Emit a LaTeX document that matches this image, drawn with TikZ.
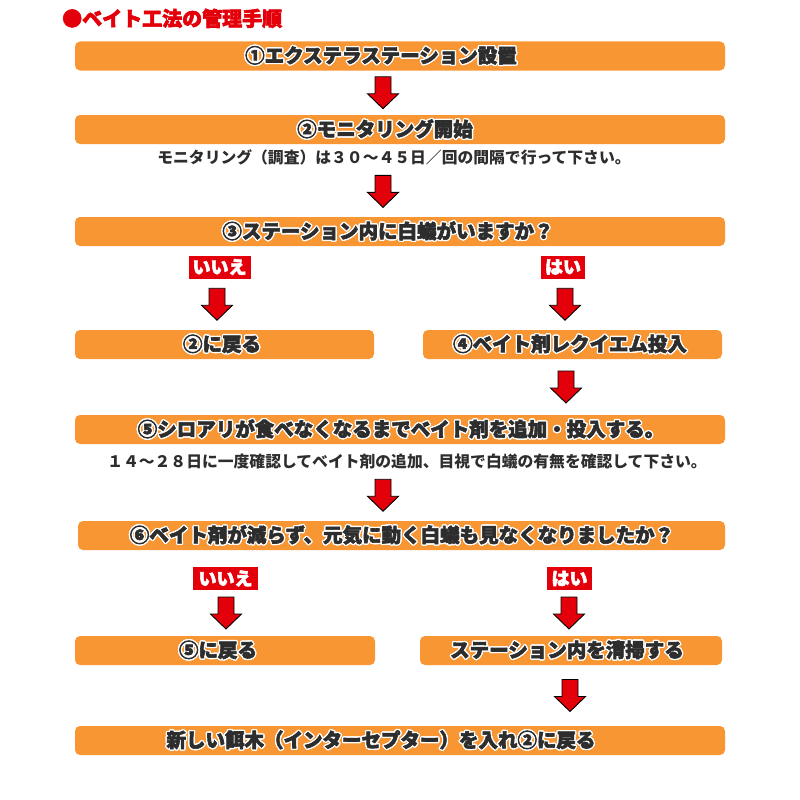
\documentclass[tikz,border=0pt]{standalone}
\usepackage{fontspec}
\usepackage[copies]{contour}
\setmainfont{Noto Sans CJK JP}
\newfontfamily\heavyfont{Noto Sans CJK JP}[FakeBold=3]
\usetikzlibrary{positioning,calc}
\definecolor{barorange}{RGB}{248,150,52}
\definecolor{alertred}{RGB}{228,0,10}
\definecolor{inkgray}{RGB}{45,45,45}
\contourlength{1.3pt}

% bar text: dark with white outline
\newcommand{\bartxt}[1]{\contour{white}{#1}}

% block arrow centred in the gap between two nodes
\newcommand{\flowarrow}[3]{%
  \draw[blockarrow] let \p1=(#2.south), \p2=(#3.north), \p3=(#1,0) in
    ({\x3-8pt},{(\y1+\y2)/2+16pt}) -- ({\x3+8pt},{(\y1+\y2)/2+16pt})
    -- ({\x3+8pt},{(\y1+\y2)/2-1pt}) -- ({\x3+15.5pt},{(\y1+\y2)/2-1pt})
    -- ({\x3},{(\y1+\y2)/2-16pt}) -- ({\x3-15.5pt},{(\y1+\y2)/2-1pt})
    -- ({\x3-8pt},{(\y1+\y2)/2-1pt}) -- cycle;}

\begin{document}
\begin{tikzpicture}[x=1pt,y=-1pt,
  bar/.style={fill=barorange, rounded corners=5pt, minimum height=29pt, inner sep=0pt},
  bartext/.style={font=\heavyfont\bfseries\fontsize{19.5}{20}\selectfont, text=inkgray, inner sep=0pt},
  subtext/.style={font=\bfseries\fontsize{15.8}{17}\selectfont, text=inkgray, inner sep=1pt},
  answer/.style={fill=alertred, text=white, font=\heavyfont\bfseries\fontsize{18}{19}\selectfont,
    minimum height=23pt, inner sep=0pt},
  blockarrow/.style={fill=alertred, draw=black, line width=0.9pt, line join=miter}]
\useasboundingbox (0,0) rectangle (800,800);

% Title
\node[font=\heavyfont\bfseries\fontsize{20}{21}\selectfont, text=alertred, anchor=west, inner sep=0pt]
  (title) at (62,19) {\contour{white}{●ベイト工法の管理手順}};

% Steps 1-3
\node[bar, minimum width=650pt] (b1) at (400,56) {};
\node[bartext] (t1) at (381,56) {\bartxt{①エクステラステーション設置}};
\node[bar, minimum width=650pt] (b2) at (400,129.5) {};
\node[bartext] (t2) at (385,129.5) {\bartxt{②モニタリング開始}};
\node[subtext] (s1) at (394,157) {モニタリング（調査）は３０～４５日／回の間隔で行って下さい。};
\node[bar, minimum width=650pt] (b3) at (400,231.5) {};
\node[bartext] (t3) at (388,231.5) {\bartxt{③ステーション内に白蟻がいますか？}};

% First answer
\node[answer, minimum width=62pt] (no1) at (219.5,267) {いいえ};
\node[answer, minimum width=44pt] (yes1) at (563,267) {はい};
\node[bar, minimum width=299pt] (back2) at (224.5,344.5) {};
\node[bartext] (tb2) at (222,344.5) {\bartxt{②に戻る}};
\node[bar, minimum width=299pt] (b4) at (572.5,344.5) {};
\node[bartext] (t4) at (570,344.5) {\bartxt{④ベイト剤レクイエム投入}};

% Steps 5-6
\node[bar, minimum width=650pt] (b5) at (400,429.5) {};
\node[bartext] (t5) at (401,429.5) {\bartxt{⑤シロアリが食べなくなるまでベイト剤を追加・投入する。}};
\node[subtext] (s2) at (407,461) {１４～２８日に一度確認してベイト剤の追加、目視で白蟻の有無を確認して下さい。};
\node[bar, minimum width=647pt] (b6) at (401.5,535.5) {};
\node[bartext] (t6) at (402,535.5) {\bartxt{⑥ベイト剤が減らず、元気に動く白蟻も見なくなりましたか？}};

% Second answer
\node[answer, minimum width=65pt] (no2) at (225.5,578.5) {いいえ};
\node[answer, minimum width=45pt] (yes2) at (569.5,578.5) {はい};
\node[bar, minimum width=300pt] (back5) at (225,650.5) {};
\node[bartext] (tb5) at (218,650.5) {\bartxt{⑤に戻る}};
\node[bar, minimum width=302pt] (clean) at (571,650.5) {};
\node[bartext] (tc) at (567,650.5) {\bartxt{ステーション内を清掃する}};
\node[bar, minimum width=650pt] (b7) at (400,740.5) {};
\node[bartext] (t7) at (381,740.5) {\bartxt{新しい餌木（インターセプター）を入れ②に戻る}};

% Arrows
\flowarrow{383}{b1}{b2}
\flowarrow{383}{s1}{b3}
\flowarrow{217}{no1}{back2}
\flowarrow{565}{yes1}{b4}
\flowarrow{566}{b4}{b5}
\flowarrow{383}{s2}{b6}
\flowarrow{226}{no2}{back5}
\flowarrow{569}{yes2}{clean}
\flowarrow{570}{clean}{b7}
\end{tikzpicture}
\end{document}
